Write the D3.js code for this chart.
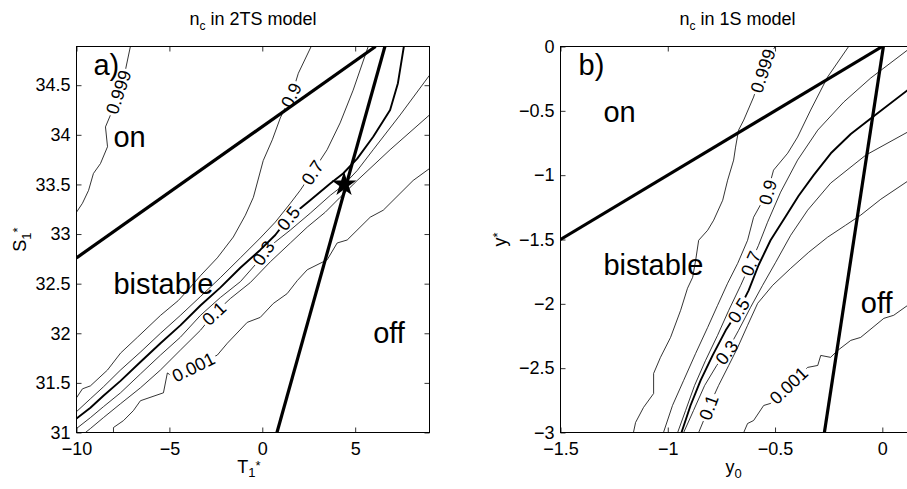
<!DOCTYPE html>
<html>
<head>
<meta charset="utf-8">
<script src="https://cdn.jsdelivr.net/npm/d3@7"></script>
<style>
  body { margin: 0; background: #fff; }
  svg { display: block; font-family: "Liberation Sans", Arial, Helvetica, sans-serif; }
</style>
</head>
<body>
<svg width="907" height="489"></svg>
<script>
// contour levels, same order for both panels
const levelNames = ["0.999", "0.9", "0.7", "0.5", "0.3", "0.1", "0.001"];
const thickLevel = "0.5";

// ---- 2TS model (left), points are [T1*, S1*]
const ts999 = [[-7.10,34.89],[-7.37,34.65],[-7.78,34.42],[-8.17,34.20],[-8.44,34.08],[-8.33,33.88],[-8.71,33.71],[-9.09,33.61],[-9.35,33.44],[-9.68,33.31],[-10,33.22]];
const ts900 = [[2.63,34.89],[1.94,34.62],[1.61,34.42],[0.97,34.17],[0.54,33.95],[0.05,33.74],[-0.48,33.37],[-0.91,33.19],[-1.56,32.97],[-2.42,32.76],[-3.33,32.58],[-4.03,32.43],[-4.52,32.33],[-5.48,32.18],[-6.72,31.96],[-7.63,31.80],[-8.33,31.63],[-9.25,31.47],[-9.68,31.44],[-10,31.35]];
const ts700 = [[-10,31.21],[-9.25,31.34],[-8.55,31.46],[-7.63,31.63],[-6.56,31.81],[-5.48,32.00],[-4.41,32.18],[-3.33,32.37],[-2.26,32.56],[-1.18,32.76],[-0.11,32.96],[0.70,33.12],[1.51,33.31],[2.04,33.44],[2.69,33.62],[3.49,33.85],[4.19,34.12],[4.89,34.45],[5.70,34.89]];
const ts500 = [[-10,31.14],[-9.25,31.25],[-8.55,31.37],[-7.63,31.52],[-6.56,31.71],[-5.48,31.90],[-4.41,32.08],[-3.33,32.28],[-2.26,32.46],[-1.18,32.66],[-0.11,32.84],[0.70,32.99],[1.40,33.16],[2.58,33.34],[3.66,33.51],[4.35,33.61],[5.11,33.76],[5.97,33.98],[6.88,34.25],[7.30,34.52],[7.62,34.89]];
const ts300 = [[-10,31.04],[-9.25,31.15],[-8.55,31.26],[-7.63,31.40],[-6.56,31.59],[-5.48,31.78],[-4.41,31.96],[-3.33,32.18],[-2.26,32.36],[-1.18,32.52],[-0.38,32.69],[0.05,32.81],[0.70,32.92],[1.51,33.04],[2.58,33.21],[3.66,33.39],[4.35,33.49],[5.11,33.64],[5.97,33.85],[7.42,34.20],[9,34.60]];
const ts100 = [[-9.52,31.0],[-9.25,31.04],[-8.55,31.15],[-7.63,31.29],[-6.56,31.45],[-5.48,31.63],[-4.41,31.83],[-3.33,32.03],[-2.63,32.19],[-1.72,32.35],[-0.65,32.51],[0.43,32.72],[1.51,32.91],[2.42,33.07],[3.39,33.22],[4.19,33.37],[5.11,33.54],[6.88,33.85],[9,34.20]];
const ts001 = [[9,33.66],[8.12,33.54],[6.51,33.24],[5.81,33.17],[4.57,32.94],[4.03,32.91],[3.49,32.74],[2.42,32.64],[1.88,32.53],[1.34,32.40],[0.59,32.30],[-0.11,32.16],[-0.81,32.11],[-1.88,31.90],[-2.42,31.78],[-2.63,31.76],[-3.71,31.66],[-4.78,31.56],[-5.11,31.60],[-5.32,31.40],[-6.56,31.32],[-6.94,31.22],[-7.47,31.12],[-8.01,31.05],[-8.01,31.0]];
const tsLabelPos = [[-7.75,34.43],[1.55,34.40],[2.69,33.62],[1.40,33.16],[0.05,32.81],[-2.60,32.20],[-3.71,31.66]];

const tsOnLine = [[-10,32.76],[6.1,34.89]];
const tsOffLine = [[0.79,31],[6.6,34.89]];
const tsStar = [[4.4,33.5]];

const tsRegionText = ["a)", "on", "bistable", "off"];
const tsRegionPos = [[-9.09,34.60],[-8.01,33.88],[-8.01,32.40],[5.97,31.90]];

const tsXTicks = [-10, -5, 0, 5];
const tsXTickLabels = ["\u221210", "\u22125", "0", "5"];
const tsYTicks = [31, 31.5, 32, 32.5, 33, 33.5, 34, 34.5];
const tsYTickLabels = ["31", "31.5", "32", "32.5", "33", "33.5", "34", "34.5"];

// ---- 1S model (right), points are [y0, y*]
const s999 = [[-0.50,0],[-0.558,-0.183],[-0.60,-0.393],[-0.646,-0.572],[-0.670,-0.650],[-0.684,-0.782],[-0.693,-0.883],[-0.721,-1.039],[-0.744,-1.195],[-0.786,-1.350],[-0.814,-1.428],[-0.856,-1.506],[-0.870,-1.661],[-0.884,-1.794],[-0.908,-1.879],[-0.940,-2.050],[-0.987,-2.261],[-1.034,-2.416],[-1.066,-2.541],[-1.066,-2.697],[-1.113,-2.805],[-1.150,-2.922],[-1.160,-3]];
const s900 = [[-0.157,0],[-0.255,-0.237],[-0.334,-0.494],[-0.395,-0.704],[-0.441,-0.829],[-0.507,-0.961],[-0.535,-1.132],[-0.600,-1.327],[-0.628,-1.506],[-0.674,-1.685],[-0.721,-1.840],[-0.768,-2.012],[-0.814,-2.183],[-0.870,-2.385],[-0.926,-2.595],[-0.978,-2.790],[-1.020,-3]];
const s700 = [[-0.954,-3],[-0.917,-2.829],[-0.875,-2.634],[-0.824,-2.440],[-0.768,-2.245],[-0.716,-2.051],[-0.660,-1.856],[-0.614,-1.685],[-0.577,-1.545],[-0.535,-1.366],[-0.474,-1.132],[-0.395,-0.883],[-0.301,-0.650],[-0.180,-0.432],[-0.054,-0.245],[0.118,-0.027],[0.128,0]];
const s500 = [[-0.936,-3],[-0.894,-2.790],[-0.847,-2.595],[-0.791,-2.401],[-0.730,-2.206],[-0.670,-2.051],[-0.623,-1.895],[-0.577,-1.700],[-0.521,-1.506],[-0.450,-1.320],[-0.390,-1.160],[-0.320,-1.000],[-0.240,-0.830],[-0.147,-0.680],[-0.054,-0.560],[0.118,-0.339],[0.15,-0.31]];
const s300 = [[-0.926,-3],[-0.880,-2.829],[-0.828,-2.634],[-0.772,-2.479],[-0.726,-2.377],[-0.670,-2.206],[-0.614,-2.027],[-0.558,-1.856],[-0.497,-1.677],[-0.427,-1.467],[-0.348,-1.272],[-0.241,-1.062],[-0.077,-0.844],[0.118,-0.665],[0.15,-0.634]];
const s100 = [[-0.856,-3],[-0.833,-2.907],[-0.810,-2.805],[-0.763,-2.634],[-0.716,-2.479],[-0.674,-2.339],[-0.628,-2.167],[-0.581,-1.996],[-0.511,-1.856],[-0.427,-1.724],[-0.343,-1.599],[-0.255,-1.482],[-0.171,-1.389],[-0.101,-1.311],[-0.007,-1.187],[0.118,-1.047],[0.15,-1.016]];
const s001 = [[0.15,-1.973],[0.118,-2.012],[0.053,-2.089],[0.007,-2.113],[-0.101,-2.261],[-0.147,-2.284],[-0.208,-2.362],[-0.241,-2.416],[-0.287,-2.401],[-0.301,-2.479],[-0.348,-2.494],[-0.437,-2.634],[-0.521,-2.774],[-0.553,-2.790],[-0.600,-2.907],[-0.628,-2.930],[-0.646,-3]];
const sLabelPos = [[-0.558,-0.19],[-0.535,-1.132],[-0.614,-1.685],[-0.670,-2.051],[-0.726,-2.377],[-0.810,-2.805],[-0.437,-2.634]];

const sOnLine = [[-1.5,-1.5],[0,0]];
const sOffLine = [[0.005,0],[-0.27,-3]];

const sRegionText = ["b)", "on", "bistable", "off"];
const sRegionPos = [[-1.416,-0.222],[-1.30,-0.588],[-1.30,-1.778],[-0.10,-2.074]];

const sXTicks = [-1.5, -1, -0.5, 0];
const sXTickLabels = ["\u22121.5", "\u22121", "\u22120.5", "0"];
const sYTicks = [-3, -2.5, -2, -1.5, -1, -0.5, 0];
const sYTickLabels = ["\u22123", "\u22122.5", "\u22122", "\u22121.5", "\u22121", "\u22120.5", "0"];

const svg = d3.select("svg");
const defs = svg.append("defs");
const plotTop = 46.5, plotBottom = 432.5;

function drawPanel(p) {
  let x = d3.scaleLinear().domain(p.xDomain).range(p.xRange);
  let y = d3.scaleLinear().domain(p.yDomain).range([plotBottom, plotTop]);
  let line = d3.line().x(d => x(d[0])).y(d => y(d[1]));

  defs.append("clipPath").attr("id", "clip-" + p.id)
    .append("rect")
      .attr("x", p.xRange[0]).attr("y", plotTop)
      .attr("width", p.xRange[1] - p.xRange[0]).attr("height", plotBottom - plotTop);

  let g = svg.append("g");
  let gLines = g.append("g").attr("clip-path", "url(#clip-" + p.id + ")");
  let gBounds = g.append("g").attr("clip-path", "url(#clip-" + p.id + ")");
  let gLabels = g.append("g");

  p.contours.forEach((pts, i) => {
    let lp = [x(p.labelPos[i][0]), y(p.labelPos[i][1])];
    // direction of the nearest segment gives the label angle
    let best = Infinity, ang = 0;
    for (let k = 0; k < pts.length - 1; k++) {
      let a = [x(pts[k][0]), y(pts[k][1])], b = [x(pts[k+1][0]), y(pts[k+1][1])];
      let dx = b[0] - a[0], dy = b[1] - a[1];
      let t = ((lp[0]-a[0])*dx + (lp[1]-a[1])*dy) / (dx*dx + dy*dy);
      t = Math.max(0, Math.min(1, t));
      let d = Math.hypot(a[0] + t*dx - lp[0], a[1] + t*dy - lp[1]);
      if (d < best) { best = d; ang = Math.atan2(dy, dx) * 180 / Math.PI; }
    }
    if (ang > 90) ang -= 180;
    if (ang < -90) ang += 180;

    let tr = `translate(${lp[0]},${lp[1]}) rotate(${ang})`;
    let txt = gLabels.append("text")
      .attr("transform", tr)
      .attr("text-anchor", "middle")
      .attr("dy", "0.36em")
      .attr("font-size", 18)
      .text(levelNames[i]);
    let w = txt.node().getComputedTextLength();

    // cut the line where its label sits
    let mid = "mask-" + p.id + "-" + i;
    let m = defs.append("mask").attr("id", mid)
      .attr("maskUnits", "userSpaceOnUse")
      .attr("x", 0).attr("y", 0).attr("width", 1000).attr("height", 489);
    m.append("rect").attr("x", 0).attr("y", 0).attr("width", 1000).attr("height", 489).attr("fill", "#fff");
    m.append("rect").attr("transform", tr)
      .attr("x", -w/2 - 2).attr("y", -7).attr("width", w + 4).attr("height", 14)
      .attr("fill", "#000");

    gLines.append("path")
      .attr("d", line(pts))
      .attr("mask", "url(#" + mid + ")")
      .attr("fill", "none")
      .attr("stroke", "#000")
      .attr("stroke-width", levelNames[i] === thickLevel ? 1.9 : 0.8)
      .attr("stroke-linejoin", "round");
  });

  [p.onLine, p.offLine].forEach(l => {
    gBounds.append("path")
      .attr("d", line(l))
      .attr("fill", "none")
      .attr("stroke", "#000")
      .attr("stroke-width", 3.2);
  });

  if (p.star) {
    gBounds.selectAll(".star").data(p.star).enter().append("path")
      .attr("class", "star")
      .attr("transform", d => `translate(${x(d[0])},${y(d[1])})`)
      .attr("d", d3.symbol(d3.symbolStar, 190));
  }

  g.selectAll(".region").data(p.regionText).enter().append("text")
    .attr("class", "region")
    .attr("x", (d, i) => x(p.regionPos[i][0]))
    .attr("y", (d, i) => y(p.regionPos[i][1]))
    .attr("font-size", 29)
    .text(d => d);

  // frame
  g.append("rect")
    .attr("x", p.xRange[0]).attr("y", plotTop)
    .attr("width", p.xRange[1] - p.xRange[0]).attr("height", plotBottom - plotTop)
    .attr("fill", "none").attr("stroke", "#000").attr("stroke-width", 1);

  function styleAxis(sel) {
    sel.select(".domain").remove();
    sel.attr("font-size", 18).attr("font-family", null);
    sel.selectAll("line").attr("stroke-width", 0.8);
  }

  g.append("g").attr("transform", `translate(0,${plotBottom})`)
    .call(d3.axisBottom(x).tickValues(p.xTicks).tickFormat((d, i) => p.xTickLabels[i])
      .tickSizeInner(-5).tickSizeOuter(0).tickPadding(10))
    .call(styleAxis);
  g.append("g").attr("transform", `translate(0,${plotTop})`)
    .call(d3.axisTop(x).tickValues(p.xTicks).tickFormat("").tickSizeInner(-5).tickSizeOuter(0))
    .call(styleAxis);
  g.append("g").attr("transform", `translate(${p.xRange[0]},0)`)
    .call(d3.axisLeft(y).tickValues(p.yTicks).tickFormat((d, i) => p.yTickLabels[i])
      .tickSizeInner(-5).tickSizeOuter(0).tickPadding(6))
    .call(styleAxis);
  g.append("g").attr("transform", `translate(${p.xRange[1]},0)`)
    .call(d3.axisRight(y).tickValues(p.yTicks).tickFormat("").tickSizeInner(-5).tickSizeOuter(0))
    .call(styleAxis);

  let cx = (p.xRange[0] + p.xRange[1]) / 2;

  // title with subscript
  let title = svg.append("text").attr("x", cx).attr("y", 25)
    .attr("text-anchor", "middle").attr("font-size", 18);
  title.append("tspan").text("n");
  title.append("tspan").attr("dy", 5).attr("font-size", 12).text("c");
  title.append("tspan").attr("dy", -5).text(p.titleRest);

  // x label
  let xl = svg.append("text").attr("x", cx - 4).attr("y", 473)
    .attr("text-anchor", "middle").attr("font-size", 18);
  p.xLabel.forEach(part => {
    xl.append("tspan").attr("dy", part[1]).attr("font-size", part[2]).text(part[0]);
  });

  // y label
  let yl = svg.append("text")
    .attr("transform", `translate(${p.yLabelX},${(plotTop + plotBottom) / 2}) rotate(-90)`)
    .attr("text-anchor", "middle").attr("font-size", 18);
  p.yLabel.forEach(part => {
    yl.append("tspan").attr("dy", part[1]).attr("font-size", part[2]).text(part[0]);
  });
}

drawPanel({
  id: "ts",
  xDomain: [-10, 9], xRange: [76.5, 429.5],
  yDomain: [31, 34.89],
  contours: [ts999, ts900, ts700, ts500, ts300, ts100, ts001],
  labelPos: tsLabelPos,
  onLine: tsOnLine, offLine: tsOffLine, star: tsStar,
  regionText: tsRegionText, regionPos: tsRegionPos,
  xTicks: tsXTicks, xTickLabels: tsXTickLabels,
  yTicks: tsYTicks, yTickLabels: tsYTickLabels,
  titleRest: " in 2TS model",
  xLabel: [["T", 0, 18], ["1", 4, 13], ["*", -7, 13]],
  yLabel: [["S", 0, 18], ["1", 5, 13], ["*", -9, 13]],
  yLabelX: 26
});

drawPanel({
  id: "s",
  xDomain: [-1.5, 0.15], xRange: [560.5, 914.5],
  yDomain: [-3, 0],
  contours: [s999, s900, s700, s500, s300, s100, s001],
  labelPos: sLabelPos,
  onLine: sOnLine, offLine: sOffLine, star: null,
  regionText: sRegionText, regionPos: sRegionPos,
  xTicks: sXTicks, xTickLabels: sXTickLabels,
  yTicks: sYTicks, yTickLabels: sYTickLabels,
  titleRest: " in 1S model",
  xLabel: [["y", 0, 18], ["0", 5, 13]],
  yLabel: [["y", 0, 18], ["*", -4, 13]],
  yLabelX: 506
});
</script>
</body>
</html>
